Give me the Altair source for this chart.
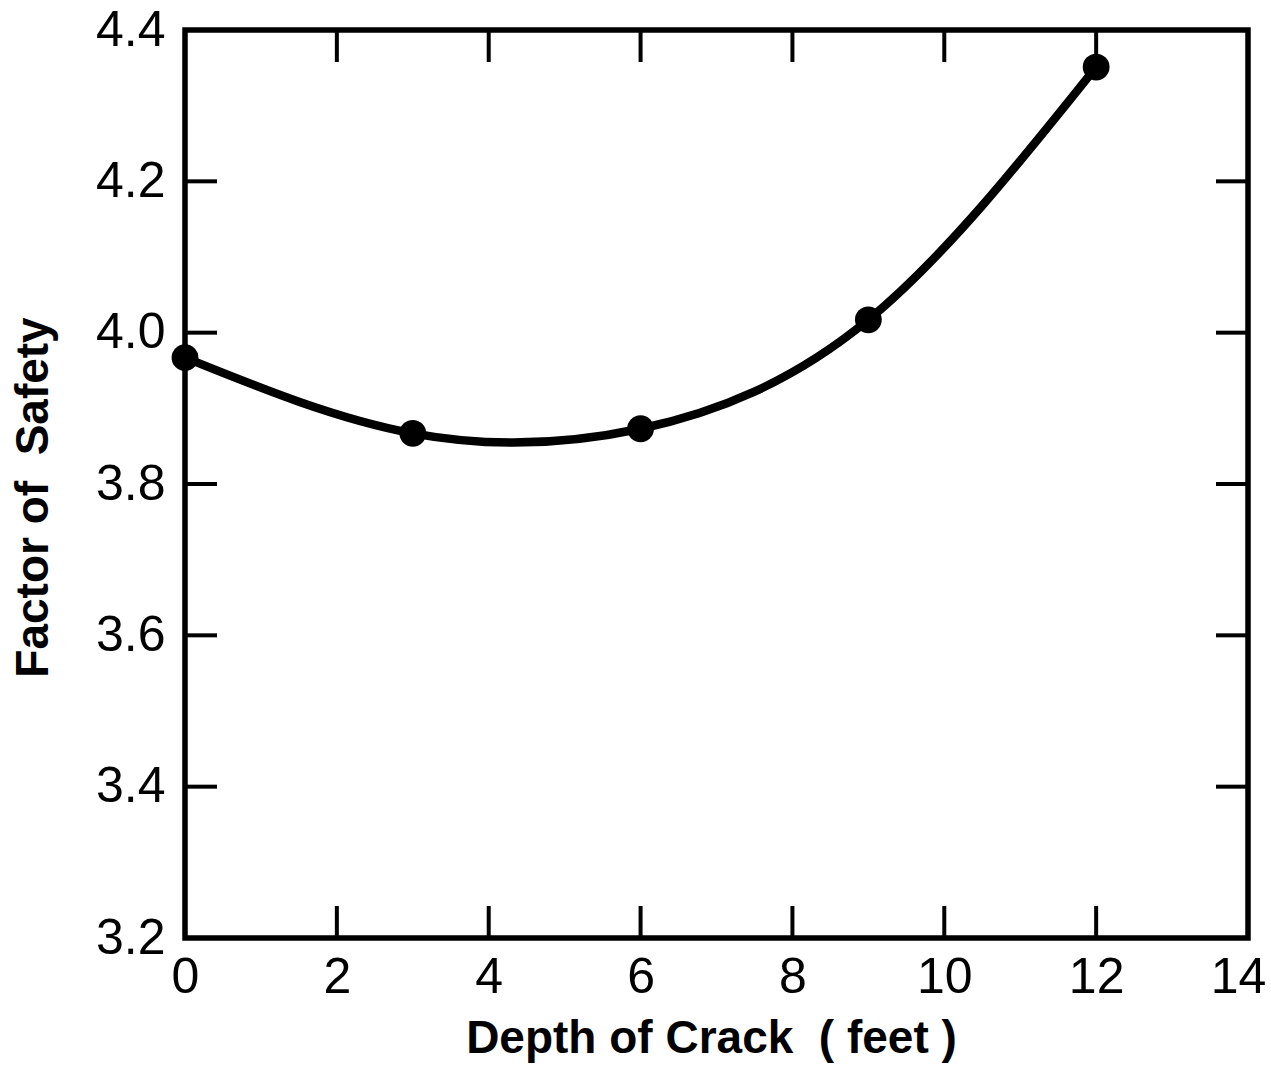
import altair as alt
import pandas as pd

# Data
depth = [0, 3, 6, 9, 12]
factor = [3.967, 3.867, 3.873, 4.017, 4.351]

x_ticks = [2, 4, 6, 8, 10, 12]
y_ticks = [3.4, 3.6, 3.8, 4.0, 4.2]
x_labels = [0, 2, 4, 6, 8, 10, 12, 14]
y_labels = [3.2, 3.4, 3.6, 3.8, 4.0, 4.2, 4.4]

NB = "\u00a0"
x_title = f"Depth of Crack{NB}{NB}({NB}feet{NB})"
y_title = f"Factor of{NB}{NB}Safety"

W, H = 1063, 908
TICK = 32

df = pd.DataFrame({"depth": depth, "fs": factor})
xt = pd.DataFrame({"v": x_ticks})
yt = pd.DataFrame({"v": y_ticks})

FONT = "Liberation Sans"

xscale = alt.Scale(domain=[0, 14], nice=False, zero=False)
yscale = alt.Scale(domain=[3.2, 4.4], nice=False, zero=False)

x_axis = alt.Axis(
    values=x_labels, format="d", ticks=False, domain=False, grid=False,
    labelFont=FONT, labelFontSize=50, labelColor="black", labelPadding=14,
    labelOverlap=False, labelBound=False, labelFlush=False,
    labelOffset={"condition": {"test": "datum.value == 14", "value": -10}, "value": 0},
    title=x_title, titleFont=FONT, titleFontSize=46,
    titleFontWeight="bold", titleColor="black", titlePadding=14,
    titleX=526,
)
y_axis = alt.Axis(
    values=y_labels, format=".1f", ticks=False, domain=False, grid=False,
    labelFont=FONT, labelFontSize=50, labelColor="black", labelPadding=20,
    labelOverlap=False, labelBound=False, labelFlush=False,
    title=y_title, titleFont=FONT, titleFontSize=46,
    titleFontWeight="bold", titleColor="black", titlePadding=38,
    titleY=467,
)

line = alt.Chart(df).mark_line(
    interpolate="natural", color="black", strokeWidth=8.5, clip=False
).encode(
    x=alt.X("depth:Q", scale=xscale, axis=x_axis),
    y=alt.Y("fs:Q", scale=yscale, axis=y_axis),
)

points = alt.Chart(df).mark_circle(
    color="black", size=720, opacity=1, clip=False
).encode(
    x=alt.X("depth:Q", scale=xscale),
    y=alt.Y("fs:Q", scale=yscale),
)

tick_style = dict(color="black", strokeWidth=4)

bottom_ticks = alt.Chart(xt).mark_rule(**tick_style).encode(
    x=alt.X("v:Q", scale=xscale), y=alt.value(H), y2=alt.value(H - TICK)
)
top_ticks = alt.Chart(xt).mark_rule(**tick_style).encode(
    x=alt.X("v:Q", scale=xscale), y=alt.value(0), y2=alt.value(TICK)
)
left_ticks = alt.Chart(yt).mark_rule(**tick_style).encode(
    y=alt.Y("v:Q", scale=yscale), x=alt.value(0), x2=alt.value(TICK)
)
right_ticks = alt.Chart(yt).mark_rule(**tick_style).encode(
    y=alt.Y("v:Q", scale=yscale), x=alt.value(W), x2=alt.value(W - TICK)
)

chart = alt.layer(
    bottom_ticks, top_ticks, left_ticks, right_ticks, line, points
).properties(
    width=W, height=H,
    autosize=alt.AutoSizeParams(type="none"),
    padding={"left": 185, "top": 30, "right": 23, "bottom": 128},
    background="white",
).configure_view(
    stroke="black", strokeWidth=5.5
)

chart.save("out.html", embed_options={"renderer": "svg", "actions": False})
